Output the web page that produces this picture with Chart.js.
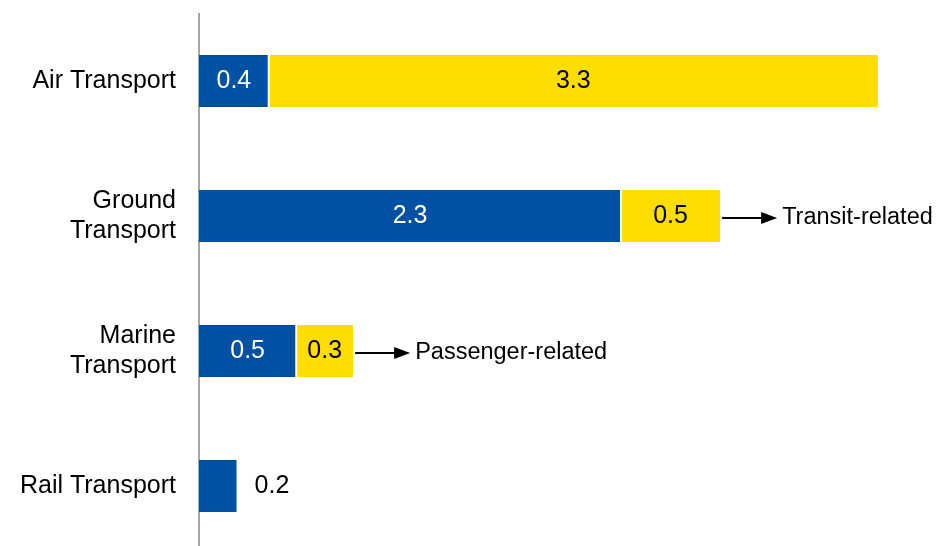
<!DOCTYPE html>
<html>
<head>
<meta charset="utf-8">
<script src="https://cdn.jsdelivr.net/npm/chart.js@4/dist/chart.umd.min.js"></script>
<style>
  html, body { margin: 0; padding: 0; background: #fff; overflow: hidden; }
  canvas { display: block; }
</style>
</head>
<body>
<canvas id="chart" width="938" height="556"></canvas>
<script>
const categories = [['Air Transport'], ['Ground', 'Transport'], ['Marine', 'Transport'], ['Rail Transport']];
const blueValues = [0.38, 2.3, 0.53, 0.21];
const yellowValues = [3.32, 0.54, 0.31, null];
const notes = [null, 'Transit-related', 'Passenger-related', null];

const BLUE = '#0050A4';
const YELLOW = '#FFDD00';

Chart.defaults.font.family = "'Liberation Sans', Arial, sans-serif";

// value labels inside bars + arrow notes
const labelPlugin = {
    id: 'labels',
    afterDatasetsDraw(chart) {
        const ctx = chart.ctx;
        ctx.save();
        ctx.font = "25px 'Liberation Sans', Arial, sans-serif";
        ctx.textBaseline = 'middle';
        chart.data.datasets.forEach((ds, di) => {
            const meta = chart.getDatasetMeta(di);
            meta.data.forEach((bar, i) => {
                const v = ds.data[i];
                if (v == null) return;
                const text = v.toFixed(1);
                const w = bar.x - bar.base;
                if (w < 45) {
                    ctx.fillStyle = '#000';
                    ctx.textAlign = 'left';
                    ctx.fillText(text, bar.x + 17, bar.y);
                } else {
                    ctx.fillStyle = di === 0 ? '#fff' : '#000';
                    ctx.textAlign = 'center';
                    ctx.fillText(text, (bar.x + bar.base) / 2, bar.y);
                }
            });
        });

        // arrows to the notes
        const last = chart.getDatasetMeta(1);
        ctx.font = "23.5px 'Liberation Sans', Arial, sans-serif";
        notes.forEach((note, i) => {
            if (!note) return;
            const bar = last.data[i];
            const x0 = bar.x + 2;
            const tip = x0 + 55;
            const y = bar.y + 2;
            ctx.strokeStyle = '#000';
            ctx.lineWidth = 2;
            ctx.beginPath();
            ctx.moveTo(x0, y);
            ctx.lineTo(tip - 14, y);
            ctx.stroke();
            ctx.fillStyle = '#000';
            ctx.beginPath();
            ctx.moveTo(tip, y);
            ctx.lineTo(tip - 16, y - 6);
            ctx.lineTo(tip - 16, y + 6);
            ctx.closePath();
            ctx.fill();
            ctx.textAlign = 'left';
            ctx.fillText(note, tip + 5, y);
        });
        ctx.restore();
    }
};

new Chart(document.getElementById('chart').getContext('2d'), {
    type: 'bar',
    data: {
        labels: categories,
        datasets: [{
            data: blueValues,
            backgroundColor: BLUE,
            borderColor: '#fff',
            borderWidth: { top: 0, bottom: 0, left: 0, right: 1 },
            borderSkipped: false,
            barPercentage: 0.385,
            categoryPercentage: 1
        }, {
            data: yellowValues,
            backgroundColor: YELLOW,
            borderColor: '#fff',
            borderWidth: { top: 0, bottom: 0, left: 1, right: 0 },
            borderSkipped: false,
            barPercentage: 0.385,
            categoryPercentage: 1
        }]
    },
    options: {
        indexAxis: 'y',
        responsive: false,
        animation: false,
        layout: { padding: { top: 13.5, bottom: 2.5, left: 0, right: 5 } },
        plugins: {
            legend: { display: false },
            tooltip: { enabled: false }
        },
        scales: {
            x: {
                stacked: true,
                display: false,
                min: 0,
                max: 4
            },
            y: {
                stacked: true,
                grid: { display: false, drawTicks: false, tickLength: 0 },
                border: { display: true, color: '#A6A6A6', width: 2 },
                ticks: {
                    color: '#000',
                    padding: 23,
                    font: { size: 25 }
                },
                afterFit(scale) {
                    scale.width = 199;
                    // labels sit well inside the bands, no need for edge room
                    scale.paddingTop = 0;
                    scale.paddingBottom = 0;
                }
            }
        }
    },
    plugins: [labelPlugin]
});
</script>
</body>
</html>
